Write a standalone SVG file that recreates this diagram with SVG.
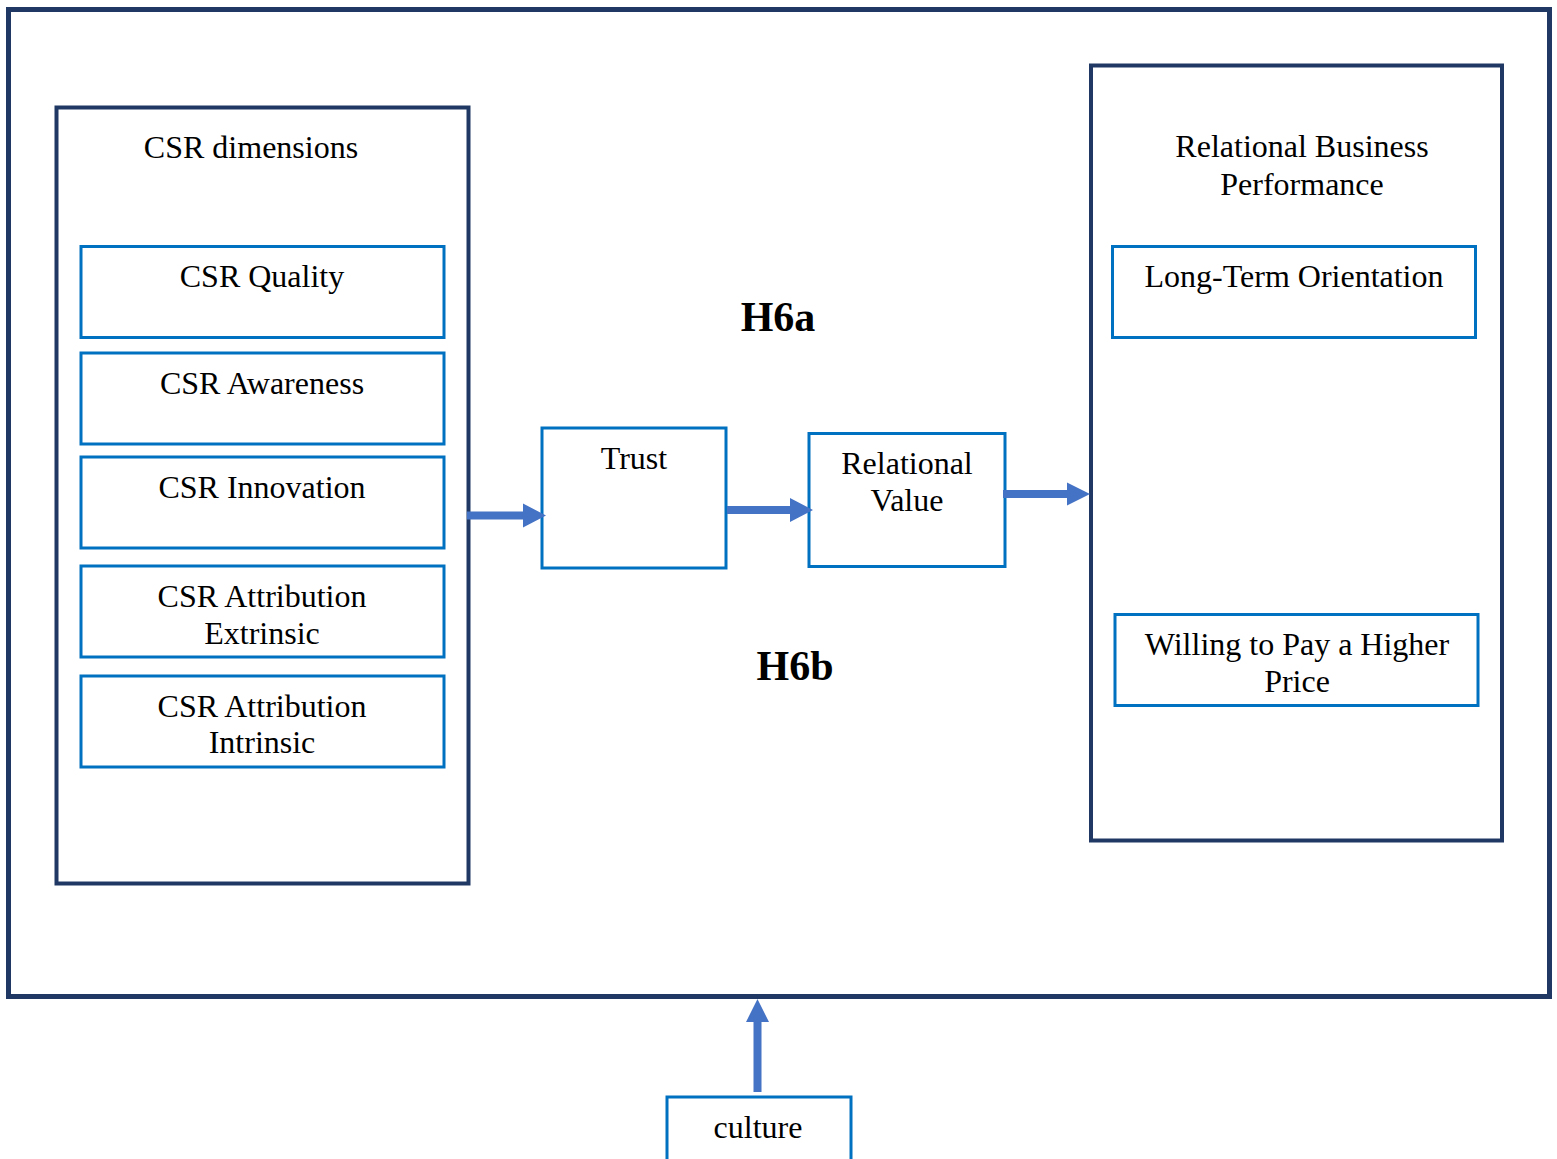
<svg xmlns="http://www.w3.org/2000/svg" width="1557" height="1159" viewBox="0 0 1557 1159">
<style>
.frame{fill:none;stroke:#203864;stroke-width:4}
.box{fill:#fff;stroke:#0070C0;stroke-width:3}
.t{font-family:"Liberation Serif","Times New Roman",serif;font-size:32px;fill:#000;text-anchor:middle}
.h{font-family:"Liberation Serif","Times New Roman",serif;font-size:42px;font-weight:bold;fill:#000;text-anchor:middle}
.arr{fill:#4472C4}
</style>
<rect width="1557" height="1159" fill="#fff"/>
<g id="outer"><rect x="8.5" y="9.5" width="1541" height="987" fill="none" stroke="#203864" stroke-width="5"/></g>
<g id="csr-dimensions">
<rect class="frame" x="56.5" y="107.5" width="412" height="776"/>
<text class="t" x="251" y="158">CSR dimensions</text>
</g>
<g id="csr-quality"><rect class="box" x="81" y="246.5" width="363" height="91"/><text class="t" x="262" y="287">CSR Quality</text></g>
<g id="csr-awareness"><rect class="box" x="81" y="353" width="363" height="91"/><text class="t" x="262" y="394">CSR Awareness</text></g>
<g id="csr-innovation"><rect class="box" x="81" y="457" width="363" height="91"/><text class="t" x="262" y="498">CSR Innovation</text></g>
<g id="csr-extrinsic"><rect class="box" x="81" y="566" width="363" height="91"/><text class="t" x="262" y="607">CSR Attribution</text><text class="t" x="262" y="644">Extrinsic</text></g>
<g id="csr-intrinsic"><rect class="box" x="81" y="676" width="363" height="91"/><text class="t" x="262" y="717">CSR Attribution</text><text class="t" x="262" y="753">Intrinsic</text></g>
<g id="trust"><rect class="box" x="542" y="428" width="184" height="140"/><text class="t" x="634" y="469">Trust</text></g>
<g id="relational-value"><rect class="box" x="809" y="433.5" width="196" height="133"/><text class="t" x="907" y="474">Relational</text><text class="t" x="907" y="511">Value</text></g>
<g id="rbp">
<rect class="frame" x="1091" y="65.5" width="411" height="775"/>
<text class="t" x="1302" y="157">Relational Business</text>
<text class="t" x="1302" y="195">Performance</text>
</g>
<g id="long-term"><rect class="box" x="1112.5" y="246.5" width="363" height="91"/><text class="t" x="1294" y="287">Long-Term Orientation</text></g>
<g id="willing"><rect class="box" x="1115" y="614.5" width="363" height="91"/><text class="t" x="1297" y="655">Willing to Pay a Higher</text><text class="t" x="1297" y="692">Price</text></g>
<g id="culture"><rect class="box" x="667" y="1097" width="184" height="80"/><text class="t" x="758" y="1138">culture</text></g>
<g id="h6a"><text class="h" x="778" y="331">H6a</text></g>
<g id="h6b"><text class="h" x="795" y="680">H6b</text></g>
<g id="connectors">
<polygon class="arr" points="467,511.5 523,511.5 523,503.5 546,515.5 523,527.5 523,519.5 467,519.5"/>
<polygon class="arr" points="727,506 790,506 790,498 813,510 790,522 790,514 727,514"/>
<polygon class="arr" points="1003,490 1067,490 1067,482.5 1090,494 1067,505.5 1067,498 1003,498"/>
<polygon class="arr" points="753.5,1092 753.5,1022 746,1022 757.5,999 769,1022 761.5,1022 761.5,1092"/>
</g>
</svg>
